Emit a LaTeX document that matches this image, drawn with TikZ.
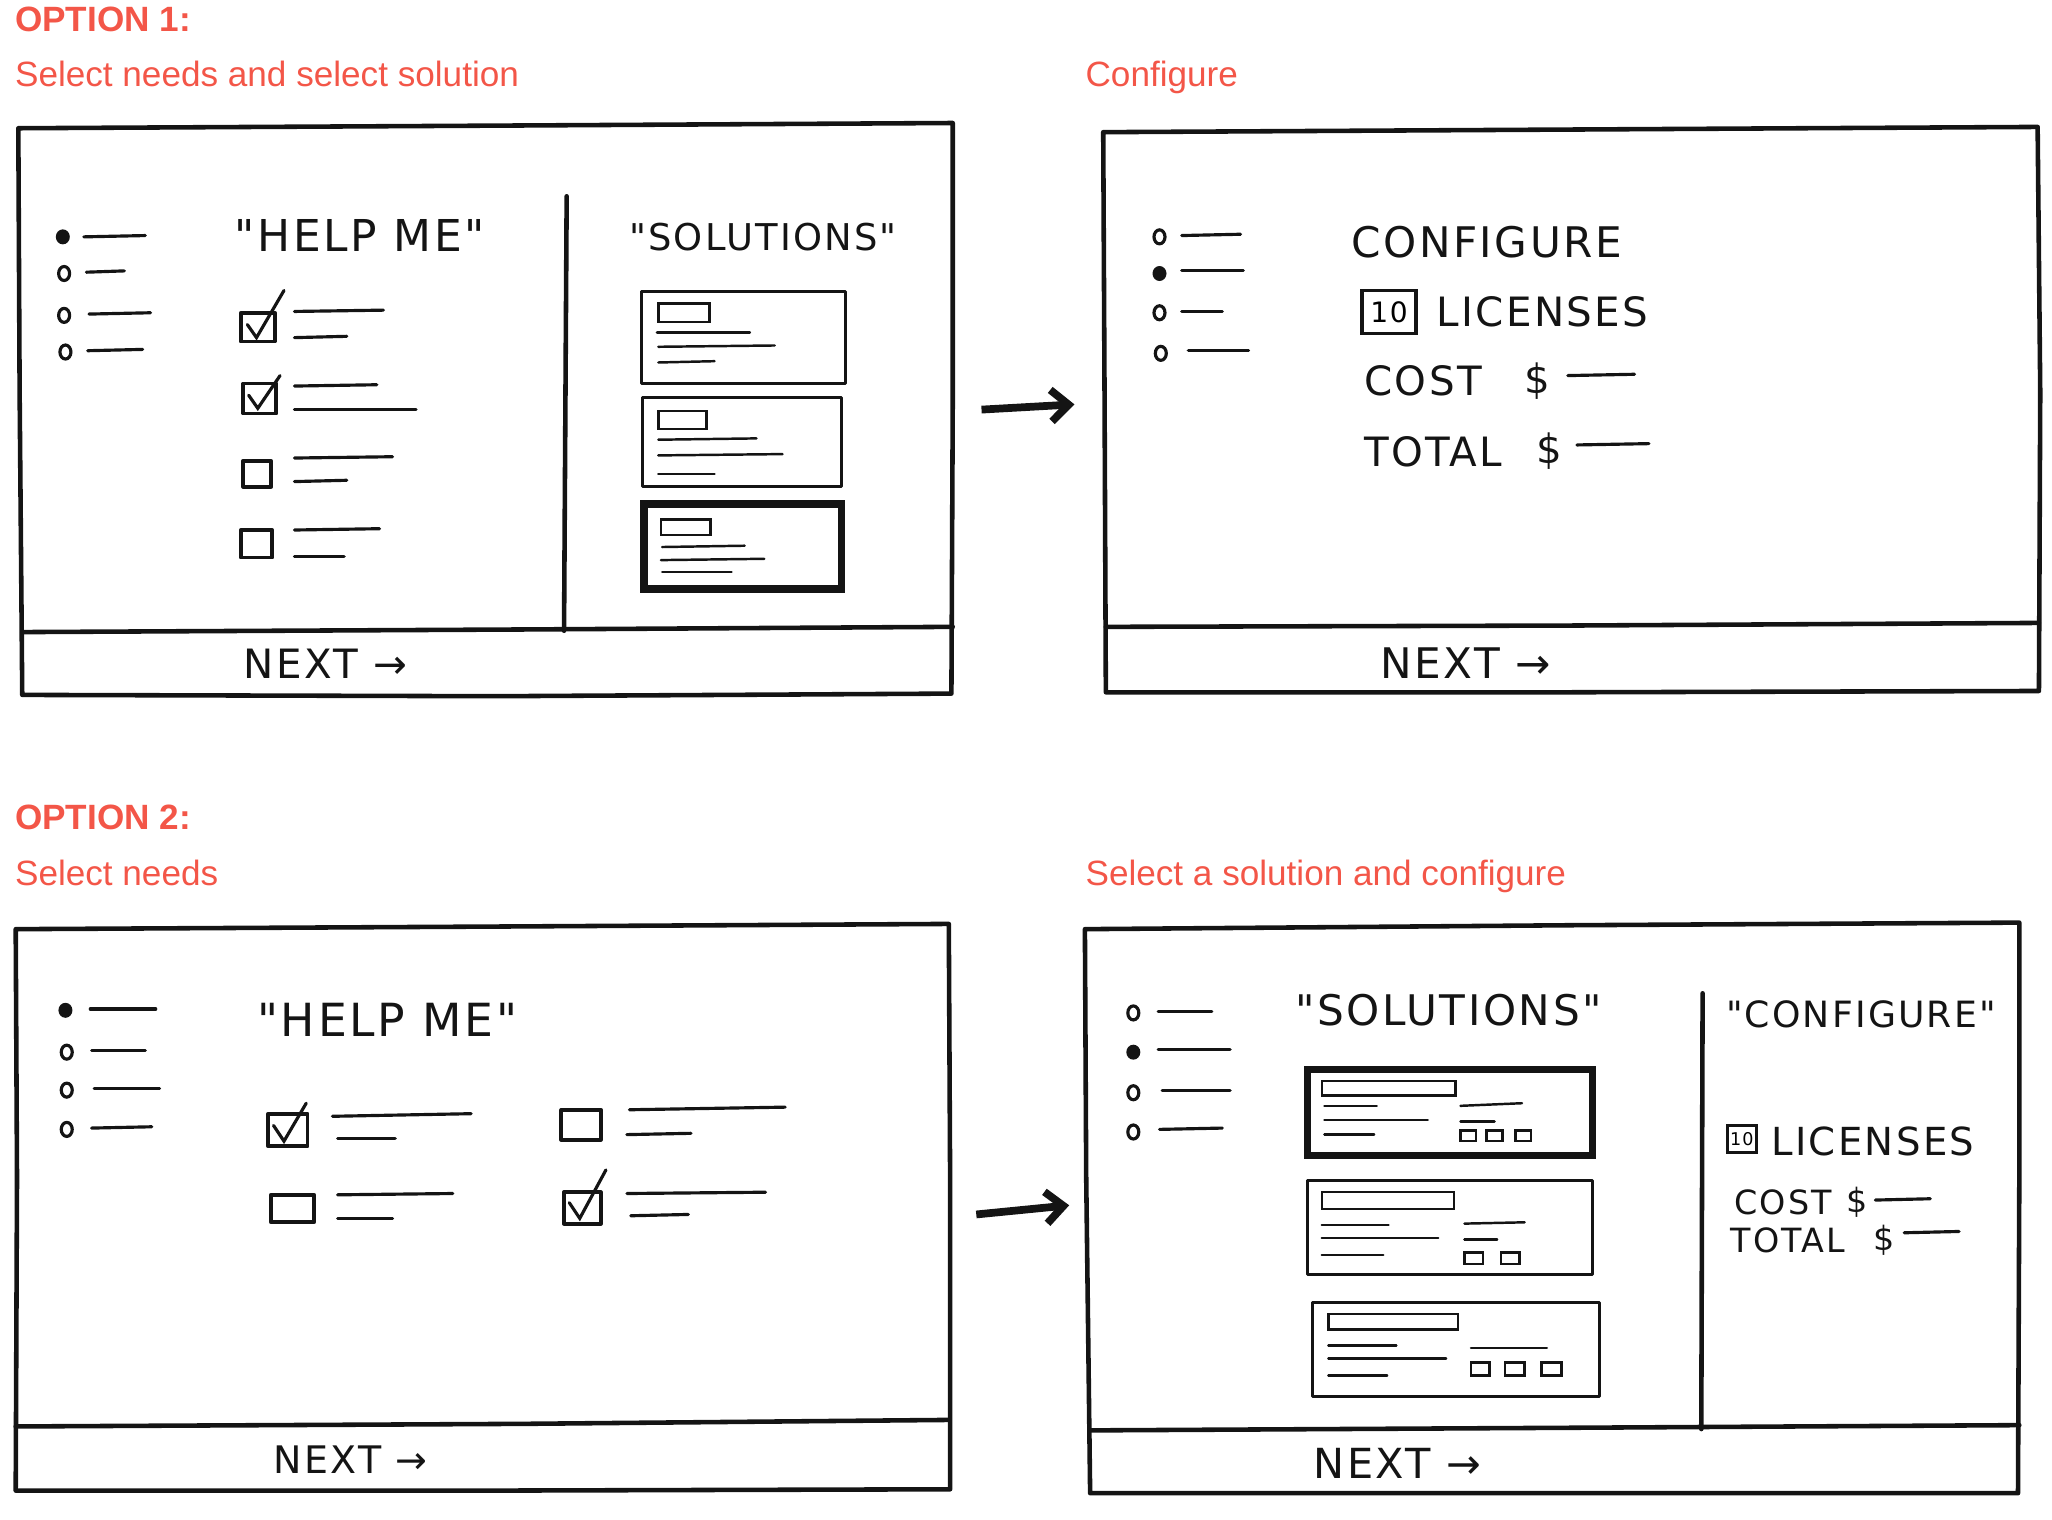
\documentclass[tikz,border=0pt]{standalone}
\usepackage{fontspec}
\setmainfont{Liberation Sans}
\newfontfamily\handfont[LetterSpace=6]{DejaVu Sans}
\usetikzlibrary{arrows.meta}
\definecolor{optred}{RGB}{243,86,72}
\definecolor{inkblack}{RGB}{20,20,20}
\tikzset{
    frame/.style={draw=inkblack, line width=1.3pt, line join=round, line cap=round},
    stroke/.style={draw=inkblack, line width=0.9pt, line cap=round},
    thinstroke/.style={draw=inkblack, line width=0.7pt, line cap=round},
    tickbox/.style={draw=inkblack, line width=1.1pt, line join=round},
    card/.style={draw=inkblack, line width=0.9pt, line join=round},
    cardpicked/.style={draw=inkblack, line width=2.1pt, line join=miter},
    hand/.style={font=\handfont\fontsize{#1}{#1}\selectfont, text=inkblack, inner sep=0pt},
    numbox/.style={draw=inkblack, line width=1pt, inner sep=0pt, font=\handfont\fontsize{#1}{#1}\selectfont},
    optlbl/.style={font=\fontsize{10}{12}\selectfont\bfseries, text=optred, anchor=base west, inner sep=0pt},
    steplbl/.style={font=\fontsize{10}{12}\selectfont, text=optred, anchor=base west, inner sep=0pt},
    flowarr/.style={-{Straight Barb[length=5pt, width=9pt]}, line width=2.2pt, draw=inkblack}
}

\begin{document}
\begin{tikzpicture}[x=0.013087cm, y=-0.013087cm]
        \useasboundingbox (0,0) rectangle (1568,1161);

        % === Option labels ===
        \node[optlbl] (opt1) at (11,24) {OPTION 1:};
        \node[steplbl] (lbl1a) at (11,66) {Select needs and select solution};
        \node[steplbl] (lbl1b) at (829,66) {Configure};
        \node[optlbl] (opt2) at (11,634) {OPTION 2:};
        \node[steplbl] (lbl2a) at (11,677) {Select needs};
        \node[steplbl] (lbl2b) at (829,677) {Select a solution and configure};

        % === Option 1, screen 1: Help me + Solutions ===
        \draw[frame] (14,98) -- (380,96) -- (728,94) -- (728,310) -- (727,530) -- (380,532) -- (17,531) -- (15,300) -- cycle;
        \draw[frame] (17,483) -- (400,481) -- (728,479);
        \draw[frame] (433,150) -- (431,482);
        % Mini icon: step list
        \fill[inkblack] (48,181) ellipse (0.07cm and 0.075cm);
        \draw[stroke] (49,209) ellipse (0.055cm and 0.07cm);
        \draw[stroke] (49,241) ellipse (0.055cm and 0.07cm);
        \draw[stroke] (50,269) ellipse (0.055cm and 0.07cm);
        \draw[stroke] (64,181) -- (111,180);
        \draw[stroke] (66,208) -- (95,207);
        \draw[stroke] (68,240) -- (115,239);
        \draw[stroke] (67,268) -- (109,267);
        \node[hand=12.5] (help1) at (275,180) {"HELP ME"};
        % Mini icon: needs checklist
        \draw[tickbox] (184,239) rectangle (210,261);
        \draw[stroke] (189,248) -- (196,258) -- (217,222);
        \draw[stroke] (225,238) -- (293,237);
        \draw[stroke] (225,258) -- (265,257);
        \draw[tickbox] (186,293) rectangle (211,316);
        \draw[stroke] (190,302) -- (197,312) -- (214,287);
        \draw[stroke] (225,295) -- (288,294);
        \draw[stroke] (225,313) -- (318,313);
        \draw[tickbox] (186,352) rectangle (207,372);
        \draw[stroke] (225,350) -- (300,349);
        \draw[stroke] (225,368) -- (265,367);
        \draw[tickbox] (184,405) rectangle (208,426);
        \draw[stroke] (225,405) -- (290,404);
        \draw[stroke] (225,425) -- (263,425);
        \node[hand=10.5] (sol1) at (583,181) {"SOLUTIONS"};
        % Mini icon: solution cards
        \draw[card] (490,223) rectangle (646,293);
        \draw[thinstroke] (503,232) rectangle (542,246);
        \draw[thinstroke] (502,254) -- (573,254);
        \draw[thinstroke] (503,265) -- (592,264);
        \draw[thinstroke] (503,277) -- (546,276);
        \draw[card] (491,304) rectangle (643,372);
        \draw[thinstroke] (503,314) rectangle (540,328);
        \draw[thinstroke] (503,336) -- (578,335);
        \draw[thinstroke] (503,348) -- (598,347);
        \draw[thinstroke] (503,362) -- (546,362);
        \draw[cardpicked] (492,385) rectangle (643,450);
        \draw[thinstroke] (505,397) rectangle (543,409);
        \draw[thinstroke] (506,418) -- (569,417);
        \draw[thinstroke] (505,428) -- (584,427);
        \draw[thinstroke] (506,437) -- (559,437);
        \node[hand=11.5] (next1) at (249,507) {NEXT →};

        \coordinate (go1s) at (750,313);
        \coordinate (go1e) at (821,309);
        \draw[flowarr] (go1s) -- (go1e);

        % === Option 1, screen 2: Configure ===
        \draw[frame] (843,101) -- (1200,99) -- (1557,97) -- (1559,300) -- (1558,528) -- (1200,529) -- (845,529) -- (844,300) -- cycle;
        \draw[frame] (845,479) -- (1200,478) -- (1558,476);
        \draw[stroke] (886,181) ellipse (0.055cm and 0.07cm);
        \fill[inkblack] (886,209) ellipse (0.07cm and 0.075cm);
        \draw[stroke] (886,239) ellipse (0.055cm and 0.07cm);
        \draw[stroke] (887,270) ellipse (0.055cm and 0.07cm);
        \draw[stroke] (903,180) -- (948,179);
        \draw[stroke] (903,207) -- (950,207);
        \draw[stroke] (903,238) -- (934,238);
        \draw[stroke] (908,268) -- (954,268);
        \node[hand=12] (conf2) at (1136,185) {CONFIGURE};
        \node[numbox=8, minimum width=0.54cm, minimum height=0.43cm] (qty2) at (1061.5,238.5) {10};
        \node[hand=11.5, anchor=west] (lic2) at (1097,238) {LICENSES};
        \node[hand=11.5, anchor=west] (cost2) at (1042,291) {COST};
        \node[hand=11.5] (usd2a) at (1175,291) {\$};
        \draw[stroke] (1198,287) -- (1249,286);
        \node[hand=11.5, anchor=west] (total2) at (1042,345) {TOTAL};
        \node[hand=11.5] (usd2b) at (1184,345) {\$};
        \draw[stroke] (1205,340) -- (1260,339);
        \node[hand=12] (next2) at (1120,507) {NEXT →};

        % === Option 2, screen 1: Help me ===
        \draw[frame] (12,710) -- (380,708) -- (725,706) -- (726,900) -- (726,1138) -- (380,1139) -- (12,1139) -- (13,900) -- cycle;
        \draw[frame] (12,1090) -- (400,1088) -- (725,1085);
        \fill[inkblack] (50,772) ellipse (0.07cm and 0.075cm);
        \draw[stroke] (51,804) ellipse (0.055cm and 0.07cm);
        \draw[stroke] (51,833) ellipse (0.055cm and 0.07cm);
        \draw[stroke] (51,863) ellipse (0.055cm and 0.07cm);
        \draw[stroke] (69,771) -- (119,771);
        \draw[stroke] (70,803) -- (111,803);
        \draw[stroke] (72,832) -- (122,832);
        \draw[stroke] (70,862) -- (116,861);
        \node[hand=13] (help3) at (296,779) {"HELP ME"};
        \draw[tickbox] (205,851) rectangle (235,876);
        \draw[stroke] (209,860) -- (217,872) -- (234,843);
        \draw[stroke] (254,853) -- (360,851);
        \draw[stroke] (258,870) -- (302,870);
        \draw[tickbox] (429,848) rectangle (459,871);
        \draw[stroke] (481,848) -- (600,846);
        \draw[stroke] (479,867) -- (528,866);
        \draw[tickbox] (207,913) rectangle (240,934);
        \draw[stroke] (258,913) -- (346,912);
        \draw[stroke] (258,931) -- (300,931);
        \draw[tickbox] (431,911) rectangle (459,935);
        \draw[stroke] (435,919) -- (443,931) -- (463,894);
        \draw[stroke] (479,912) -- (585,911);
        \draw[stroke] (482,929) -- (526,928);
        \node[hand=10.8] (next3) at (268,1115) {NEXT →};

        \coordinate (go2s) at (746,928);
        \coordinate (go2e) at (817,921);
        \draw[flowarr] (go2s) -- (go2e);

        % === Option 2, screen 2: Solutions + Configure ===
        \draw[frame] (829,710) -- (1200,707) -- (1543,705) -- (1543,900) -- (1542,1141) -- (1200,1141) -- (833,1141) -- (830,900) -- cycle;
        \draw[frame] (833,1093) -- (1200,1091) -- (1543,1089);
        \draw[frame] (1301,759) -- (1300,1092);
        \draw[stroke] (866,774) ellipse (0.055cm and 0.07cm);
        \fill[inkblack] (866,804) ellipse (0.07cm and 0.075cm);
        \draw[stroke] (866,835) ellipse (0.055cm and 0.07cm);
        \draw[stroke] (866,865) ellipse (0.055cm and 0.07cm);
        \draw[stroke] (885,773) -- (926,773);
        \draw[stroke] (885,802) -- (940,802);
        \draw[stroke] (888,833) -- (940,833);
        \draw[stroke] (886,863) -- (934,862);
        \node[hand=12] (sol4) at (1107,772) {"SOLUTIONS"};
        % Mini icon: solution cards with options
        \draw[cardpicked] (999,817) rectangle (1217,883);
        \draw[thinstroke] (1010,826) rectangle (1112,837);
        \draw[thinstroke] (1012,845) -- (1052,845);
        \draw[thinstroke] (1012,856) -- (1091,856);
        \draw[thinstroke] (1012,867) -- (1050,867);
        \draw[thinstroke] (1116,845) -- (1163,843);
        \draw[thinstroke] (1116,857) -- (1142,857);
        \draw[thinstroke] (1116,864) rectangle (1128,872);
        \draw[thinstroke] (1136,864) rectangle (1148,872);
        \draw[thinstroke] (1158,864) rectangle (1170,872);
        \draw[card] (999,902) rectangle (1217,974);
        \draw[thinstroke] (1010,911) rectangle (1111,924);
        \draw[thinstroke] (1010,936) -- (1061,936);
        \draw[thinstroke] (1010,946) -- (1099,946);
        \draw[thinstroke] (1010,959) -- (1057,959);
        \draw[thinstroke] (1119,935) -- (1165,934);
        \draw[thinstroke] (1119,947) -- (1144,947);
        \draw[thinstroke] (1119,957) rectangle (1133,966);
        \draw[thinstroke] (1147,957) rectangle (1161,966);
        \draw[card] (1003,995) rectangle (1222,1067);
        \draw[thinstroke] (1015,1004) rectangle (1114,1016);
        \draw[thinstroke] (1015,1028) -- (1067,1028);
        \draw[thinstroke] (1015,1038) -- (1105,1038);
        \draw[thinstroke] (1015,1051) -- (1060,1051);
        \draw[thinstroke] (1124,1030) -- (1182,1030);
        \draw[thinstroke] (1124,1041) rectangle (1138,1051);
        \draw[thinstroke] (1150,1041) rectangle (1165,1051);
        \draw[thinstroke] (1178,1041) rectangle (1193,1051);
        \node[hand=10.3] (conf4) at (1422,775) {"CONFIGURE"};
        \node[numbox=5, minimum width=0.29cm, minimum height=0.27cm, line width=0.8pt] (qty4) at (1331,870.5) {10};
        \node[hand=11, anchor=west] (lic4) at (1353,872) {LICENSES};
        \node[hand=9.5, anchor=west] (cost4) at (1325,919) {COST};
        \node[hand=9.5] (usd4a) at (1419,919) {\$};
        \draw[stroke] (1433,917) -- (1475,916);
        \node[hand=9.5, anchor=west] (total4) at (1322,948) {TOTAL};
        \node[hand=9.5] (usd4b) at (1440,948) {\$};
        \draw[stroke] (1455,942) -- (1497,941);
        \node[hand=11.8] (next4) at (1068,1118) {NEXT →};
    \end{tikzpicture}
\end{document}
